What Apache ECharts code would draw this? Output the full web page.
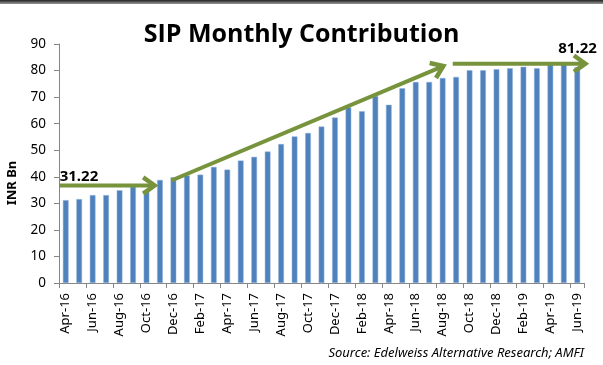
<!DOCTYPE html>
<html>
<head>
<meta charset="utf-8">
<script src="https://cdn.jsdelivr.net/npm/echarts@6/dist/echarts.min.js"></script>
<style>
html,body{margin:0;padding:0;background:#fff;}
#chart{width:603px;height:365px;}
</style>
</head>
<body>
<div id="chart"></div>
<script>
const categories = ['Apr-16','May-16','Jun-16','Jul-16','Aug-16','Sep-16','Oct-16','Nov-16','Dec-16',
  'Jan-17','Feb-17','Mar-17','Apr-17','May-17','Jun-17','Jul-17','Aug-17','Sep-17','Oct-17','Nov-17','Dec-17',
  'Jan-18','Feb-18','Mar-18','Apr-18','May-18','Jun-18','Jul-18','Aug-18','Sep-18','Oct-18','Nov-18','Dec-18',
  'Jan-19','Feb-19','Mar-19','Apr-19','May-19','Jun-19'];
const sipValues = [31.2,31.6,33.1,33.1,34.9,36.3,34.6,38.8,39.8,
  40.5,40.8,43.7,42.7,46.1,47.5,49.5,52.3,55.2,56.5,58.9,62.3,
  66.2,64.7,70.4,67.1,73.3,75.7,75.7,77.2,77.6,80.1,80.1,80.5,
  80.9,81.4,80.9,82.3,82.4,81.2];
const yTicks = [0,10,20,30,40,50,60,70,80,90];
// trend arrows in data space: [category position, value]
const trendArrows = [
  {from:[-0.5,36.7], to:[6.6,36.7]},
  {from:[7.85,38.6], to:[28.05,81.7]},
  {from:[28.75,82.6], to:[38.6,82.6]}
];
const arrowLabels = [
  {text:'31.22', at:[-0.45,36.7], align:'left'},
  {text:'81.22', at:[39.45,82.6], align:'right'}
];
const labelOffsets = [-1, -7];

const chart = echarts.init(document.getElementById('chart'), null, {renderer:'canvas'});
const FONT = '"Noto Sans", "Open Sans", sans-serif';
chart.setOption({
  animation:false,
  title:{text:'SIP Monthly Contribution', left:'center', top:17,
    textStyle:{fontFamily:'"Open Sans", sans-serif', fontWeight:'bold', fontSize:25, color:'#000'}},
  grid:{left:59, right:19, top:44, bottom:82, containLabel:false},
  xAxis:{type:'category', data:categories, boundaryGap:true,
    axisLine:{lineStyle:{color:'#868686', width:1}},
    axisTick:{show:true, interval:1, alignWithLabel:false, length:5, lineStyle:{color:'#868686'}},
    axisLabel:{interval:1, rotate:90, margin:10, fontFamily:FONT, fontSize:13, color:'#000'}},
  yAxis:{type:'value', min:yTicks[0], max:yTicks[yTicks.length-1], interval:10,
    axisLine:{show:true, lineStyle:{color:'#868686'}},
    axisTick:{show:true, inside:false, length:5, lineStyle:{color:'#868686'}},
    splitLine:{show:false},
    axisLabel:{margin:13, fontFamily:FONT, fontSize:13.5, color:'#000'}},
  series:[{type:'bar', data:sipValues, barWidth:'42%',
    itemStyle:{color:'#4F81BD', borderColor:'#8FB0D8', borderWidth:0.5}}]
});

function px(p){
  const a = chart.convertToPixel({gridIndex:0},[0,p[1]]);
  const b = chart.convertToPixel({gridIndex:0},[1,p[1]]);
  return [a[0] + (b[0]-a[0])*p[0], a[1]];
}
const green = '#77933C';
const g = [];
g.push({type:'rect', shape:{x:0,y:0,width:603,height:4},
  style:{fill:new echarts.graphic.LinearGradient(0,0,0,1,[{offset:0,color:'#222'},{offset:1,color:'#999'}])}, z:10});
g.push({type:'text', x:12, y:183, rotation:Math.PI/2,
  style:{text:'INR Bn', font:'bold 13px '+FONT, fill:'#000', align:'center', verticalAlign:'middle'}});
g.push({type:'text', x:584, y:353,
  style:{text:'Source: Edelweiss Alternative Research; AMFI', font:'italic 13px '+FONT, fill:'#000', align:'right', verticalAlign:'middle'}});
trendArrows.forEach(function(ar){
  const p1 = px(ar.from), p2 = px(ar.to);
  const ang = Math.atan2(p2[1]-p1[1], p2[0]-p1[0]);
  g.push({type:'line', shape:{x1:p1[0],y1:p1[1],x2:p2[0]-2*Math.cos(ang),y2:p2[1]-2*Math.sin(ang)},
    style:{stroke:green, lineWidth:4}, z:20});
  const L = 14, spread = 0.62;
  const h1 = [p2[0]-L*Math.cos(ang-spread), p2[1]-L*Math.sin(ang-spread)];
  const h2 = [p2[0]-L*Math.cos(ang+spread), p2[1]-L*Math.sin(ang+spread)];
  g.push({type:'polyline', shape:{points:[h1,p2,h2]},
    style:{stroke:green, lineWidth:4.5, fill:null, lineJoin:'miter'}, z:20});
});
arrowLabels.forEach(function(l, i){
  const p = px(l.at);
  g.push({type:'text', x:p[0], y:p[1]+labelOffsets[i],
    style:{text:l.text, font:'bold 15px '+FONT, fill:'#000', align:l.align, verticalAlign:'bottom'}, z:21});
});
chart.setOption({graphic:g});
</script>
</body>
</html>
